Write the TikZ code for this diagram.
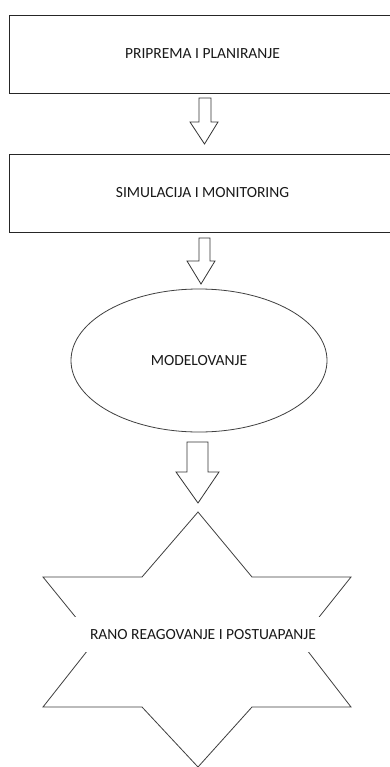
\documentclass[tikz,border=0pt]{standalone}
\usepackage{fontspec}
\setmainfont{Carlito}
\usetikzlibrary{shapes.geometric}
\begin{document}
\begin{tikzpicture}[x=1pt,y=-1pt,
  every node/.style={font=\fontsize{15.5}{18}\selectfont, text=black!90},
  stagebox/.style={draw=black!85, line width=0.9pt, rectangle, minimum width=387pt, minimum height=78pt, inner sep=0pt},
  stageoval/.style={draw=black!75, line width=0.8pt, ellipse, minimum width=256pt, minimum height=143pt, inner sep=0pt},
  blockarrow/.style={draw=black!80, line width=0.8pt, fill=white, line join=miter},
  starline/.style={draw=black!75, line width=0.8pt, line join=miter}]
\useasboundingbox (0,0) rectangle (390,767);
\clip (0,0) rectangle (390,767);
\fill[white] (0,0) rectangle (390,767);
% boxes
\node[stagebox] (b1) at (202.5,54) {PRIPREMA I PLANIRANJE};
\node[stagebox] (b2) at (202.5,193) {SIMULACIJA I MONITORING};
\node[stageoval] (m) at (199,360.5) {MODELOVANJE};
% star outline
\draw[starline] (198,512) -- (252,577) -- (351,577) -- (300,641) -- (351,707) -- (252,707)
  -- (198,767) -- (142,707) -- (43,707) -- (95,641) -- (43,577) -- (142,577) -- cycle;
\node[fill=white, minimum width=272pt, minimum height=35pt, inner sep=0pt] (s) at (203,634.5) {RANO REAGOVANJE I POSTUAPANJE};
% block arrows
\draw[blockarrow] (199,98) -- (211,98) -- (211,122) -- (218,122) -- (204.5,144) -- (190,122) -- (199,122) -- cycle;
\draw[blockarrow] (199,238) -- (210,238) -- (210,261) -- (215,261) -- (201,284) -- (187,261) -- (199,261) -- cycle;
\draw[blockarrow] (187,442) -- (208,442) -- (208,472) -- (219,472) -- (198,503) -- (176,472) -- (187,472) -- cycle;
\end{tikzpicture}
\end{document}
